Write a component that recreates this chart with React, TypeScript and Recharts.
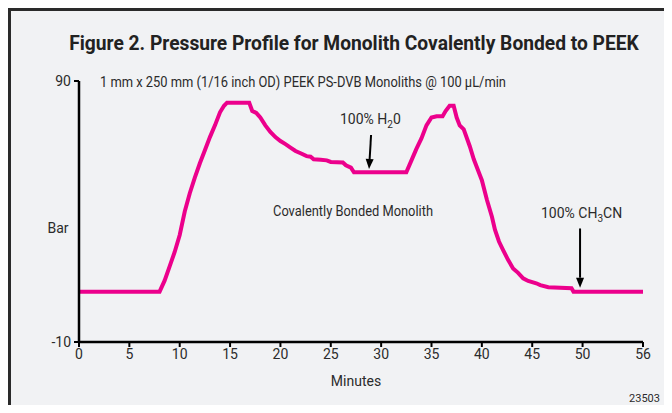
import { LineChart, Line, XAxis, YAxis, ReferenceLine } from "recharts";

// pressure trace
const minutes = [
  0, 8.0, 8.5, 9.0, 9.5, 10.0, 10.5, 11.0, 11.5, 12.0, 12.5, 13.0, 13.5, 14.0,
  14.4, 14.7, 16.9, 17.2, 17.6, 18.0, 18.5, 19.0, 19.5, 20.0, 20.5, 21.0, 21.5,
  22.0, 22.6, 23.0, 23.3, 24.0, 24.6, 25.0, 26.2, 26.5, 27.0, 27.3, 32.5, 33.0,
  33.5, 34.0, 34.5, 35.0, 35.5, 36.1, 36.4, 36.8, 37.2, 37.5, 37.8, 38.2, 38.8,
  39.2, 39.8, 40.0, 40.5, 41.0, 41.3, 41.7, 42.1, 42.6, 43.1, 43.6, 44.1, 44.6,
  45.4, 45.8, 46.6, 48.9, 49.1, 56,
];
const pressure = [
  9.3, 9.3, 13.5, 19, 24.5, 31, 40, 47, 53, 58.5, 63.5, 68.5, 73, 78, 80.5,
  81.7, 81.7, 78.5, 77.8, 76, 73, 70.5, 68.5, 67, 65.8, 64.5, 63.2, 62.3, 61.2,
  61, 60, 59.8, 59.6, 59, 58.8, 57.7, 56.8, 55, 55, 59.5, 64, 68, 73, 76, 76.5,
  76.5, 78.5, 80.5, 80.5, 76, 73, 71.5, 65, 60, 54, 52, 44.5, 38, 33, 28.5,
  25.3, 21.5, 18.2, 16.5, 14.4, 13.4, 12.5, 11.8, 11, 10.6, 9.3, 9.3,
];
const xTicks = [0, 5, 10, 15, 20, 25, 30, 35, 40, 45, 50, 56];
const yTicks = [-10, 90];

const h2oArrow = [
  { x: 29.0, y: 69.3 },
  { x: 28.8, y: 56.3 },
];
const ch3cnArrow = [
  { x: 49.75, y: 33.5 },
  { x: 49.75, y: 10.8 },
];

const data = minutes.map((m, i) => ({ min: m, bar: pressure[i] }));

const FONT = "'Liberation Sans Narrow', 'Roboto', sans-serif";
const TEXT = "#2b2b2b";
const PINK = "#ec008c";

const Arrow = (props: any) => {
  const { x1, y1, x2, y2 } = props;
  const dx = x2 - x1;
  const dy = y2 - y1;
  const len = Math.sqrt(dx * dx + dy * dy) || 1;
  const ux = dx / len;
  const uy = dy / len;
  const head = 10;
  const half = 4;
  const bx = x2 - ux * head;
  const by = y2 - uy * head;
  return (
    <g>
      <line x1={x1} y1={y1} x2={bx} y2={by} stroke="#000" strokeWidth={2} />
      <polygon
        points={`${x2},${y2} ${bx - uy * half},${by + ux * half} ${bx + uy * half},${by - ux * half}`}
        fill="#000"
      />
    </g>
  );
};

export default function App() {
  return (
    <div
      style={{
        position: "relative",
        width: 672,
        height: 413,
        margin: -8,
        background: "#fff",
        overflow: "hidden",
      }}
    >
      <div
        style={{
          position: "absolute",
          left: 8,
          top: 8,
          width: 700,
          height: 440,
          borderLeft: "3px solid #2a2a2a",
          borderTop: "3px solid #2a2a2a",
          background: "#f1f2f4",
        }}
      />
      <div style={{ position: "absolute", left: 0, top: 0 }}>
        <LineChart
          width={672}
          height={413}
          data={data}
          margin={{ top: 81, right: 29, bottom: 70, left: 78 }}
        >
          <XAxis
            dataKey="min"
            type="number"
            domain={[0, 56]}
            ticks={xTicks}
            height={1}
            axisLine={{ stroke: "#000", strokeWidth: 2.5 }}
            tickLine={{ stroke: "#000", strokeWidth: 2 }}
            tickSize={5}
            tick={{ fill: TEXT, fontSize: 14, fontFamily: FONT }}
            tickMargin={2}
          />
          <YAxis
            type="number"
            domain={[-10, 90]}
            ticks={yTicks}
            width={1}
            axisLine={{ stroke: "#000", strokeWidth: 2.5 }}
            tickLine={{ stroke: "#000", strokeWidth: 2 }}
            tickSize={5}
            tick={{ fill: TEXT, fontSize: 14, fontFamily: FONT }}
            tickMargin={3}
          />
          <Line
            dataKey="bar"
            type="linear"
            stroke={PINK}
            strokeWidth={4}
            dot={false}
            isAnimationActive={false}
          />
          <ReferenceLine segment={h2oArrow} shape={Arrow} ifOverflow="visible" />
          <ReferenceLine segment={ch3cnArrow} shape={Arrow} ifOverflow="visible" />
        </LineChart>
      </div>
      <svg
        width={672}
        height={413}
        style={{ position: "absolute", left: 0, top: 0, pointerEvents: "none" }}
        fontFamily={FONT}
        fill={TEXT}
      >
        <g transform="translate(354 50) scale(0.915 1)">
          <text x={0} y={0} textAnchor="middle" fontSize={21} fontWeight="bold" fill="#222">
            Figure 2. Pressure Profile for Monolith Covalently Bonded to PEEK
          </text>
        </g>
        <text x={100} y={87} fontSize={14} textLength={406} lengthAdjust="spacingAndGlyphs">
          1 mm x 250 mm (1/16 inch OD) PEEK PS-DVB Monoliths @ 100 µL/min
        </text>
        <text x={340} y={124} fontSize={14}>
          100% H<tspan fontSize={10} dy={4}>2</tspan>
          <tspan dy={-4}>0</tspan>
        </text>
        <text x={273} y={216} fontSize={14} textLength={160} lengthAdjust="spacingAndGlyphs">
          Covalently Bonded Monolith
        </text>
        <text x={541} y={218} fontSize={14}>
          100% CH<tspan fontSize={10} dy={4}>3</tspan>
          <tspan dy={-4}>CN</tspan>
        </text>
        <text x={58} y={233} fontSize={14} textAnchor="middle">
          Bar
        </text>
        <text x={356} y={386} fontSize={14} textAnchor="middle">
          Minutes
        </text>
        <text x={660} y={402} fontSize={11} textAnchor="end">
          23503
        </text>
      </svg>
    </div>
  );
}
